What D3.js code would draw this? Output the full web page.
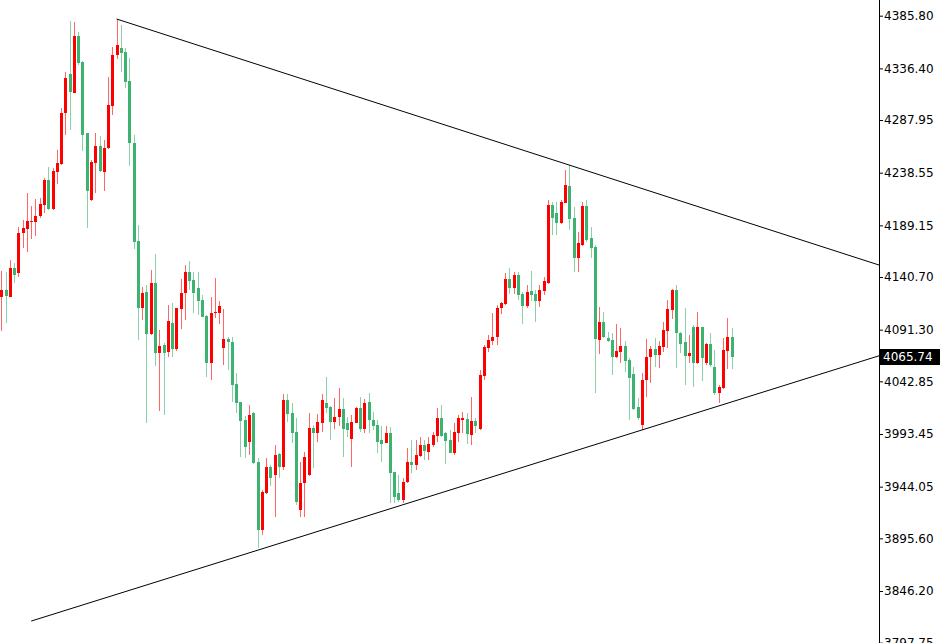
<!DOCTYPE html>
<meta charset="utf-8">
<style>
body { margin: 0; background: #fff; }
svg { display: block; }
.axis text { font: 12px "DejaVu Sans", sans-serif; fill: #000; }
.axis line { stroke: #000; }
</style>
<svg width="940" height="643"></svg>
<script src="https://d3js.org/d3.v7.min.js"></script>
<script>

// one row per bar: open, high, low, close
var ohlc = [
  [4121.6, 4146.3, 4090.0, 4128.5], [4128.5, 4145.1, 4097.2, 4123.1], [4122.2, 4156.6, 4121.5, 4149.4],
  [4149.4, 4153.8, 4135.0, 4142.5], [4144.7, 4187.9, 4140.4, 4182.2], [4181.7, 4194.1, 4167.6, 4186.4],
  [4185.4, 4219.7, 4164.4, 4193.5], [4192.7, 4207.3, 4176.3, 4193.5], [4192.5, 4213.6, 4179.4, 4198.2],
  [4197.9, 4214.5, 4195.7, 4209.1], [4208.2, 4233.8, 4200.4, 4231.7], [4231.7, 4243.6, 4203.5, 4204.5],
  [4204.5, 4242.6, 4203.5, 4240.4], [4239.4, 4259.8, 4227.6, 4247.3], [4246.4, 4299.5, 4245.7, 4294.2],
  [4294.2, 4333.2, 4273.9, 4327.1], [4331.1, 4380.8, 4278.6, 4313.9], [4313.5, 4379.9, 4313.0, 4366.7],
  [4366.7, 4370.8, 4339.5, 4341.1], [4342.1, 4343.6, 4258.9, 4273.9], [4275.5, 4276.0, 4186.4, 4221.3],
  [4212.9, 4250.4, 4212.0, 4248.3], [4247.9, 4275.5, 4219.2, 4263.8], [4263.8, 4272.9, 4239.5, 4240.1],
  [4239.4, 4269.2, 4221.6, 4261.7], [4261.4, 4328.6, 4261.0, 4302.0], [4301.1, 4356.7, 4292.6, 4348.9],
  [4348.9, 4382.7, 4344.9, 4358.3], [4355.2, 4377.0, 4333.2, 4351.1], [4352.0, 4355.2, 4317.7, 4323.9],
  [4324.8, 4345.8, 4244.8, 4266.1], [4266.6, 4273.9, 4166.9, 4173.8], [4174.7, 4189.4, 4081.6, 4111.3],
  [4111.3, 4131.6, 4100.3, 4125.4], [4126.3, 4133.2, 4004.0, 4086.9], [4086.9, 4147.2, 4086.3, 4135.3],
  [4135.3, 4162.2, 4057.2, 4069.1], [4069.1, 4091.0, 4015.3, 4076.0], [4076.9, 4078.5, 4011.2, 4069.1],
  [4070.6, 4114.4, 4065.9, 4099.4], [4097.2, 4116.6, 4065.9, 4073.1], [4072.9, 4111.9, 4071.3, 4111.3],
  [4110.7, 4138.5, 4091.6, 4125.4], [4125.4, 4151.9, 4100.3, 4145.1], [4145.1, 4155.7, 4128.5, 4137.2],
  [4137.9, 4145.6, 4107.2, 4125.4], [4130.1, 4145.1, 4105.0, 4118.4], [4119.1, 4123.8, 4102.9, 4103.4],
  [4104.1, 4105.0, 4047.2, 4060.3], [4060.3, 4122.2, 4044.1, 4107.2], [4106.6, 4139.4, 4101.9, 4108.1],
  [4107.2, 4118.2, 4096.3, 4113.5], [4074.4, 4110.4, 4058.1, 4082.2], [4082.2, 4084.7, 4053.4, 4080.0],
  [4080.0, 4084.7, 4023.7, 4039.4], [4040.3, 4050.9, 4012.8, 4022.2], [4023.1, 4023.7, 3972.1, 4005.9],
  [4006.5, 4010.3, 3970.9, 3981.2], [3986.2, 4020.6, 3973.7, 4011.2], [4012.8, 4014.3, 3965.5, 3965.9],
  [3967.4, 3970.6, 3886.2, 3903.4], [3903.4, 3940.9, 3898.7, 3939.3], [3937.8, 3970.6, 3937.3, 3962.7],
  [3962.7, 3964.3, 3944.6, 3951.8], [3954.9, 3983.1, 3915.8, 3973.7], [3974.4, 3975.6, 3951.8, 3962.2],
  [3962.2, 4030.6, 3959.6, 4025.3], [4025.3, 4030.6, 4004.9, 4012.2], [4012.8, 4022.2, 3985.2, 3994.6],
  [3995.0, 4008.1, 3926.8, 3929.9], [3922.1, 3967.4, 3915.8, 3947.7], [3947.2, 3976.8, 3915.3, 3972.1],
  [3954.9, 4012.8, 3954.4, 3998.8], [3998.8, 4001.8, 3961.2, 3994.6], [3994.6, 4011.9, 3986.2, 4004.9],
  [4004.0, 4030.6, 3995.6, 4025.3], [4022.2, 4047.2, 4012.8, 4018.1], [4019.0, 4019.6, 3987.8, 4004.9],
  [4004.9, 4026.9, 3997.8, 4009.1], [4009.1, 4036.8, 4000.9, 4016.6], [4016.6, 4026.9, 3972.1, 3997.8],
  [4003.4, 4009.6, 3990.9, 3997.2], [3988.7, 4011.2, 3962.2, 4004.9], [4004.0, 4019.0, 4003.7, 4018.1],
  [4018.1, 4027.8, 3995.6, 3998.1], [3997.8, 4026.0, 3994.6, 4022.8], [4023.7, 4031.6, 3994.6, 4006.5],
  [4006.5, 4014.3, 3997.2, 4001.2], [4001.8, 4006.5, 3975.9, 3986.2], [3987.8, 4000.9, 3967.4, 3984.0],
  [3985.2, 4000.9, 3984.9, 3994.6], [3994.6, 4000.3, 3928.4, 3956.5], [3957.5, 3957.8, 3928.4, 3934.6],
  [3937.8, 3955.0, 3929.9, 3931.5], [3931.5, 3951.8, 3928.4, 3948.7], [3948.7, 3980.0, 3947.7, 3967.4],
  [3967.4, 3987.8, 3956.5, 3964.3], [3964.3, 3987.8, 3959.6, 3973.7], [3972.8, 3990.9, 3972.3, 3983.1],
  [3983.1, 3987.8, 3969.0, 3977.7], [3976.8, 3990.9, 3969.0, 3984.0], [3983.1, 3995.6, 3981.5, 3992.5],
  [3991.5, 4017.5, 3986.2, 4008.7], [4008.7, 4020.6, 3990.9, 3991.5], [3994.1, 3995.6, 3965.3, 3987.1],
  [3987.8, 3997.2, 3975.3, 3975.9], [3975.9, 4003.4, 3973.7, 3995.6], [3994.6, 4011.2, 3986.2, 4008.1],
  [4006.5, 4014.3, 3994.1, 4008.1], [4007.5, 4012.8, 3984.0, 3993.4], [3992.5, 4028.4, 3983.1, 4005.9],
  [4005.6, 4008.1, 3994.1, 4001.2], [3997.8, 4053.4, 3997.2, 4048.7], [4047.8, 4076.9, 4044.1, 4075.3],
  [4073.8, 4086.3, 4070.6, 4081.6], [4080.9, 4106.6, 4076.9, 4084.7], [4084.1, 4114.4, 4076.9, 4111.3],
  [4111.3, 4117.5, 4106.0, 4116.6], [4115.3, 4144.1, 4114.4, 4138.5], [4138.5, 4148.8, 4124.4, 4130.6],
  [4130.1, 4145.6, 4124.4, 4142.5], [4142.5, 4145.6, 4119.1, 4123.8], [4124.7, 4126.9, 4096.3, 4113.5],
  [4113.5, 4133.2, 4111.3, 4126.9], [4127.8, 4146.3, 4118.4, 4123.8], [4124.7, 4128.5, 4098.7, 4118.4],
  [4118.4, 4133.2, 4112.8, 4128.5], [4127.8, 4140.4, 4123.8, 4137.2], [4135.0, 4212.9, 4134.1, 4208.2],
  [4208.2, 4211.3, 4180.1, 4195.7], [4200.4, 4211.3, 4180.1, 4191.0], [4191.0, 4212.9, 4190.4, 4211.3],
  [4210.4, 4241.0, 4209.8, 4227.0], [4226.0, 4245.7, 4184.8, 4194.8], [4195.7, 4206.6, 4145.6, 4158.2],
  [4158.2, 4183.2, 4145.6, 4172.3], [4170.7, 4211.3, 4169.7, 4207.3], [4207.3, 4212.9, 4173.8, 4175.4],
  [4177.0, 4187.9, 4158.2, 4167.6], [4168.5, 4170.7, 4032.1, 4082.2], [4081.6, 4112.8, 4068.4, 4098.7],
  [4098.7, 4107.6, 4083.2, 4084.7], [4083.2, 4089.4, 4080.0, 4080.9], [4081.6, 4087.9, 4048.8, 4065.4],
  [4065.4, 4096.6, 4064.4, 4071.3], [4070.6, 4093.1, 4059.7, 4076.0], [4076.0, 4080.9, 4051.8, 4062.2],
  [4062.8, 4064.4, 4006.5, 4045.7], [4049.7, 4056.5, 4015.9, 4016.6], [4018.5, 4026.9, 4006.5, 4008.1],
  [4001.8, 4050.9, 3997.2, 4044.1], [4044.1, 4082.2, 4028.4, 4065.9], [4065.4, 4076.0, 4041.0, 4072.9],
  [4072.9, 4083.2, 4056.5, 4067.5], [4067.5, 4080.9, 4055.0, 4076.0], [4075.3, 4098.7, 4070.6, 4091.0],
  [4090.3, 4119.1, 4073.8, 4110.4], [4109.7, 4129.1, 4101.0, 4128.5], [4128.5, 4133.2, 4055.0, 4087.9],
  [4088.4, 4089.4, 4069.1, 4077.8], [4080.0, 4111.3, 4039.4, 4066.6], [4066.6, 4086.3, 4059.7, 4069.1],
  [4094.1, 4095.7, 4037.8, 4059.7], [4059.7, 4108.1, 4059.0, 4094.1], [4093.5, 4094.1, 4043.4, 4064.7],
  [4059.7, 4078.5, 4058.1, 4077.8], [4077.8, 4088.4, 4056.5, 4058.1], [4056.5, 4072.2, 4030.0, 4032.1],
  [4032.1, 4039.4, 4022.2, 4037.8], [4036.3, 4083.2, 4035.6, 4072.2], [4071.5, 4101.9, 4054.1, 4084.7],
  [4084.7, 4092.6, 4054.1, 4065.74]
];

var priceTicks = [4385.80, 4336.40, 4287.95, 4238.55, 4189.15, 4140.70, 4091.30,
                  4042.85, 3993.45, 3944.05, 3895.60, 3846.20, 3797.75];
var lastPrice = 4065.74;

// trend lines: [bar index, price] anchors, drawn as rays to the right
var upperTrend = [[27, 4382.7], [133, 4245.7]];
var lowerTrend = [[7, 3818.0], [150, 3997.2]];

var upColor = "#ff0000",
    downColor = "#3cb371";

var svg = d3.select("svg"),
    width = +svg.attr("width"),
    height = +svg.attr("height"),
    axisX = 879;

var x = d3.scaleLinear().domain([0, ohlc.length - 1]).range([1.3, 731.5]);
var y = d3.scaleLinear().domain([3846.2, 4385.8]).range([591, 15.7]);

svg.append("clipPath").attr("id", "plot-clip")
  .append("rect").attr("width", axisX).attr("height", height);

var plot = svg.append("g").attr("clip-path", "url(#plot-clip)");

var bar = plot.append("g")
  .selectAll("g")
  .data(ohlc)
  .enter().append("g")
    .attr("transform", function(d, i) { return "translate(" + Math.round(x(i)) + ",0)"; });

bar.append("line")
    .attr("x1", 0.5).attr("x2", 0.5)
    .attr("y1", function(d) { return y(d[1]); })
    .attr("y2", function(d) { return y(d[2]); })
    .attr("stroke", function(d) { return d[3] >= d[0] ? upColor : downColor; })
    .attr("stroke-opacity", 0.6)
    .attr("shape-rendering", "crispEdges");

bar.append("rect")
    .attr("x", -1)
    .attr("width", 3)
    .attr("y", function(d) { return y(Math.max(d[0], d[3])); })
    .attr("height", function(d) { return Math.max(1, Math.abs(y(d[0]) - y(d[3]))); })
    .attr("fill", function(d) { return d[3] >= d[0] ? upColor : downColor; })
    .attr("shape-rendering", "crispEdges");

// trend lines, extended to the price scale
var lastIndex = x.invert(axisX);
function ray(a) {
  var slope = (a[1][1] - a[0][1]) / (a[1][0] - a[0][0]);
  return [a[0], [lastIndex, a[0][1] + slope * (lastIndex - a[0][0])]];
}

plot.selectAll("path.trend")
  .data([upperTrend, lowerTrend])
  .enter().append("path")
    .attr("class", "trend")
    .attr("fill", "none")
    .attr("stroke", "#000")
    .attr("stroke-width", 1)
    .attr("d", function(d) {
      return d3.line().x(function(p) { return x(p[0]); }).y(function(p) { return y(p[1]); })(ray(d));
    });

// price scale
var axis = svg.append("g")
    .attr("class", "axis")
    .attr("transform", "translate(" + axisX + ",0)")
    .call(d3.axisRight(y)
      .tickValues(priceTicks)
      .tickSize(4)
      .tickPadding(1)
      .tickFormat(d3.format(".2f")));

axis.select(".domain").remove();

svg.append("line")
    .attr("x1", axisX + 0.5).attr("x2", axisX + 0.5)
    .attr("y1", 0).attr("y2", height)
    .attr("stroke", "#000");

// current price marker
var py = y(lastPrice);
svg.append("rect")
    .attr("x", axisX + 1)
    .attr("y", Math.round(py) - 8)
    .attr("width", width - axisX - 1)
    .attr("height", 16)
    .attr("fill", "#000");

svg.append("text")
    .attr("x", axisX + 4)
    .attr("y", py)
    .attr("dy", "0.35em")
    .style("font", '12px "DejaVu Sans", sans-serif')
    .attr("fill", "#fff")
    .text(d3.format(".2f")(lastPrice));

</script>
